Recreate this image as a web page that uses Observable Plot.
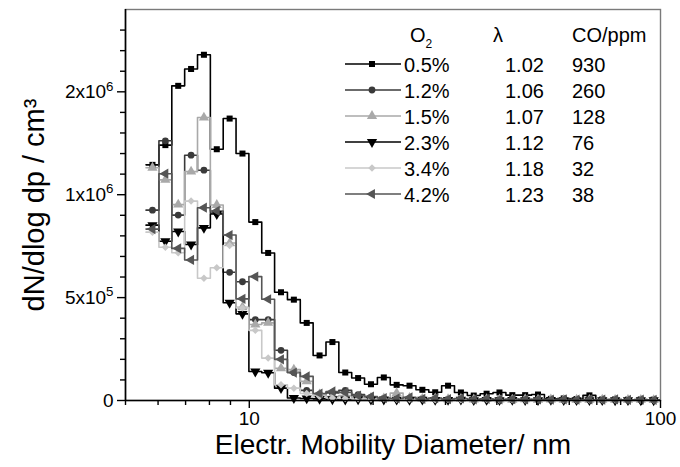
<!DOCTYPE html>
<html><head><meta charset="utf-8">
<script src="https://cdn.jsdelivr.net/npm/d3@7"></script>
<script src="https://cdn.jsdelivr.net/npm/@observablehq/plot@0.6"></script>
<style>
body{margin:0;background:#fff;font-family:"Liberation Sans",Arial,sans-serif;}
#wrap{position:relative;width:680px;height:467px;}
#legend{position:absolute;left:0;top:0;width:680px;height:0;font-size:20px;color:#000;}
.cell{position:absolute;white-space:nowrap;line-height:20px;}
.cell sub{font-size:12px;vertical-align:-6px;}
.sw{position:absolute;}
</style></head><body><div id="wrap"><div id="legend"></div></div>
<script>
// Bin centres (electrical mobility diameter, nm)
const diameters = [5.815, 6.251, 6.717, 7.219, 7.757, 8.336, 8.958, 9.625, 10.343, 11.115,
  11.944, 12.835, 13.793, 14.822, 15.928, 17.116, 18.393, 19.765, 21.240, 22.824,
  24.527, 26.357, 28.323, 30.436, 32.707, 35.147, 37.769, 40.587, 43.615, 46.869,
  50.366, 54.123, 58.161, 62.500, 67.163, 72.174, 77.559, 83.345, 89.563, 96.245];

// dN/dlog dp (cm^-3), one array per O2 level
const s05 = [1.145e6, 1.241e6, 1.529e6, 1.611e6, 1.680e6, 1.221e6, 1.370e6, 1.200e6, 0.867e6, 0.717e6,
  0.526e6, 0.490e6, 0.377e6, 0.219e6, 0.284e6, 0.136e6, 0.109e6, 0.079e6, 0.112e6, 0.076e6,
  0.072e6, 0.052e6, 0.040e6, 0.072e6, 0.039e6, 0.024e6, 0.033e6, 0.039e6, 0.026e6, 0.026e6,
  0.029e6, 0.008e6, 0.010e6, 0.007e6, 0.025e6, 0.005e6, 0.005e6, 0.004e6, 0.005e6, 0.004e6];
const s12 = [0.925e6, 1.262e6, 0.901e6, 1.192e6, 1.119e6, 0.911e6, 0.623e6, 0.577e6, 0.393e6, 0.393e6,
  0.244e6, 0.136e6, 0.049e6, 0.029e6, 0.037e6, 0.049e6, 0.029e6, 0.015e6, 0.010e6, 0.008e6,
  0.006e6, 0.009e6, 0.007e6, 0.006e6, 0.008e6, 0.005e6, 0.006e6, 0.005e6, 0.004e6, 0.006e6,
  0.004e6, 0.004e6, 0.005e6, 0.003e6, 0.004e6, 0.003e6, 0.004e6, 0.003e6, 0.003e6, 0.003e6];
const s15 = [1.131e6, 1.072e6, 0.952e6, 1.112e6, 1.375e6, 0.950e6, 0.765e6, 0.453e6, 0.369e6, 0.377e6,
  0.156e6, 0.150e6, 0.093e6, 0.029e6, 0.019e6, 0.024e6, 0.015e6, 0.012e6, 0.010e6, 0.036e6,
  0.012e6, 0.008e6, 0.010e6, 0.006e6, 0.008e6, 0.005e6, 0.007e6, 0.005e6, 0.004e6, 0.006e6,
  0.004e6, 0.005e6, 0.003e6, 0.004e6, 0.003e6, 0.004e6, 0.003e6, 0.003e6, 0.003e6, 0.002e6];
const s23 = [0.852e6, 0.774e6, 0.821e6, 0.758e6, 0.839e6, 0.906e6, 0.475e6, 0.421e6, 0.141e6, 0.135e6,
  0.060e6, 0.012e6, 0.010e6, 0.008e6, 0.006e6, 0.005e6, 0.006e6, 0.004e6, 0.005e6, 0.004e6,
  0.003e6, 0.004e6, 0.003e6, 0.003e6, 0.004e6, 0.002e6, 0.003e6, 0.002e6, 0.003e6, 0.002e6,
  0.002e6, 0.003e6, 0.002e6, 0.002e6, 0.002e6, 0.002e6, 0.001e6, 0.002e6, 0.001e6, 0.001e6];
const s34 = [0.818e6, 0.745e6, 0.718e6, 0.969e6, 0.594e6, 0.645e6, 0.753e6, 0.450e6, 0.341e6, 0.206e6,
  0.076e6, 0.060e6, 0.034e6, 0.019e6, 0.012e6, 0.010e6, 0.008e6, 0.007e6, 0.009e6, 0.006e6,
  0.005e6, 0.007e6, 0.004e6, 0.005e6, 0.004e6, 0.003e6, 0.005e6, 0.003e6, 0.004e6, 0.003e6,
  0.003e6, 0.004e6, 0.002e6, 0.003e6, 0.002e6, 0.003e6, 0.002e6, 0.002e6, 0.002e6, 0.002e6];
const s42 = [0.833e6, 1.102e6, 0.739e6, 0.683e6, 0.937e6, 0.921e6, 0.804e6, 0.494e6, 0.602e6, 0.492e6,
  0.200e6, 0.136e6, 0.117e6, 0.034e6, 0.044e6, 0.039e6, 0.024e6, 0.019e6, 0.012e6, 0.010e6,
  0.015e6, 0.008e6, 0.012e6, 0.007e6, 0.010e6, 0.006e6, 0.008e6, 0.005e6, 0.007e6, 0.005e6,
  0.006e6, 0.004e6, 0.006e6, 0.004e6, 0.005e6, 0.004e6, 0.005e6, 0.003e6, 0.004e6, 0.003e6];

const o2Labels = ["0.5%", "1.2%", "1.5%", "2.3%", "3.4%", "4.2%"];
const lambdaLabels = ["1.02", "1.06", "1.07", "1.12", "1.18", "1.23"];
const coLabels = ["930", "260", "128", "76", "32", "38"];

const yTicks = [0, 5e5, 1e6, 1.5e6];
const yTickLabels = ["0", "5x10^5", "1x10^6", "2x10^6"];
const yMinorTicks = [1e5, 2e5, 3e5, 4e5, 6e5, 7e5, 8e5, 9e5, 1.1e6, 1.2e6, 1.3e6, 1.4e6, 1.6e6, 1.7e6, 1.8e6];
const xTicks = [10, 100];
const xTickLabels = ["10", "100"];
const xMinorTicks = [5, 6, 7, 8, 9, 20, 30, 40, 50, 60, 70, 80, 90];

const seriesValues = [s05, s12, s15, s23, s34, s42];
const colors = ["#000000", "#3a3a3a", "#a9a9a9", "#000000", "#c8c8c8", "#555555"];
const symbols = ["square", "circle", "triangle", "triangle", "square", "triangle"];
const rotations = [0, 0, 0, 180, 45, -90];
const radii = [3.4, 3.4, 3.8, 3.8, 3.0, 3.8];

// Bin edges (geometric midpoints between centres)
const n = diameters.length;
const edges = [];
for (let i = 0; i <= n; i++) {
  if (i === 0) edges.push(diameters[0] / Math.sqrt(diameters[1] / diameters[0]));
  else if (i === n) edges.push(diameters[n - 1] * Math.sqrt(diameters[n - 1] / diameters[n - 2]));
  else edges.push(Math.sqrt(diameters[i - 1] * diameters[i]));
}

const marks = [];
seriesValues.forEach((vals, s) => {
  const steps = [];
  vals.forEach((v, i) => { steps.push({x: edges[i], y: v}); steps.push({x: edges[i + 1], y: v}); });
  marks.push(Plot.line(steps, {x: "x", y: "y", stroke: colors[s], strokeWidth: 1.6}));
});
seriesValues.forEach((vals, s) => {
  const pts = vals.map((v, i) => ({x: diameters[i], y: v}));
  marks.push(Plot.dot(pts, {x: "x", y: "y", symbol: symbols[s], fill: colors[s], stroke: "none",
    r: radii[s], rotate: rotations[s]}));
});

const tickColor = "#000";
const chart = Plot.plot({
  width: 680, height: 467,
  marginLeft: 125, marginRight: 20, marginTop: 9, marginBottom: 67,
  style: {fontFamily: "Liberation Sans, Arial, sans-serif"},
  x: {type: "log", domain: [5, 100]},
  y: {domain: [0, 1.9e6]},
  marks: [
    Plot.frame({stroke: "#7a7a7a", strokeWidth: 1.4}),
    ...marks,
    Plot.ruleX([5], {stroke: "#000", strokeWidth: 1.6}),
    Plot.ruleY([0], {stroke: "#000", strokeWidth: 1.6}),
    Plot.axisX(xMinorTicks, {tickSize: 5, label: null, stroke: tickColor, strokeWidth: 1.4, tickFormat: () => " "}),
    Plot.axisY(yMinorTicks, {tickSize: 5, label: null, stroke: tickColor, strokeWidth: 1.4, tickFormat: () => " "}),
    Plot.axisX(xTicks, {tickSize: 8, tickPadding: 3, fontSize: 19, label: null, stroke: tickColor, strokeWidth: 1.4,
      fill: "#000", tickFormat: d => xTickLabels[xTicks.indexOf(d)]}),
    Plot.axisY(yTicks, {tickSize: 8, tickPadding: 4, fontSize: 19, label: null, stroke: tickColor, strokeWidth: 1.4,
      fill: "#000", tickFormat: d => yTickLabels[yTicks.indexOf(d)]}),
    Plot.text(["Electr. Mobility Diameter/ nm"], {text: d => d, frameAnchor: "bottom", lineAnchor: "middle",
      textAnchor: "middle", dy: 45, fontSize: 28, fill: "#000"}),
    Plot.text(["dN/dlog dp / cm³"], {text: d => d, frameAnchor: "left", lineAnchor: "middle",
      textAnchor: "middle", dx: -91, rotate: -90, fontSize: 29, fill: "#000"})
  ]
});

// superscripts in tick labels
d3.select(chart).selectAll("text").each(function () {
  const t = this.textContent;
  if (t.includes("^")) {
    const [base, exp] = t.split("^");
    const sel = d3.select(this);
    sel.text("");
    sel.append("tspan").text(base);
    sel.append("tspan").attr("dy", "-0.55em").attr("font-size", "0.7em").text(exp);
  }
});
document.getElementById("wrap").prepend(chart);

// Legend table
const leg = document.getElementById("legend");
function cell(html, left, baseline) {
  const d = document.createElement("div");
  d.className = "cell";
  d.innerHTML = html;
  d.style.left = left + "px";
  d.style.top = (baseline - 17) + "px";
  leg.appendChild(d);
}
cell("O<sub>2</sub>", 410, 42.3);
cell("λ", 493, 42.3);
cell("CO/ppm", 572, 42.3);
const symbolMap = {square: d3.symbolSquare, circle: d3.symbolCircle, triangle: d3.symbolTriangle};
o2Labels.forEach((lab, i) => {
  const base = 71.7 + 26 * i;
  cell(lab, 404, base);
  cell(lambdaLabels[i], 505, base);
  cell(coLabels[i], 572, base);
  const svg = d3.create("svg").attr("class", "sw").attr("width", 58).attr("height", 14)
    .style("left", "344px").style("top", (base - 7.5 - 7) + "px");
  svg.append("line").attr("x1", 1).attr("x2", 57).attr("y1", 7).attr("y2", 7)
    .attr("stroke", colors[i]).attr("stroke-width", 1.6);
  const r = radii[i];
  svg.append("path").attr("d", d3.symbol(symbolMap[symbols[i]], Math.PI * r * r)())
    .attr("transform", `translate(28,7) rotate(${rotations[i]})`).attr("fill", colors[i]);
  leg.appendChild(svg.node());
});
</script></body></html>
